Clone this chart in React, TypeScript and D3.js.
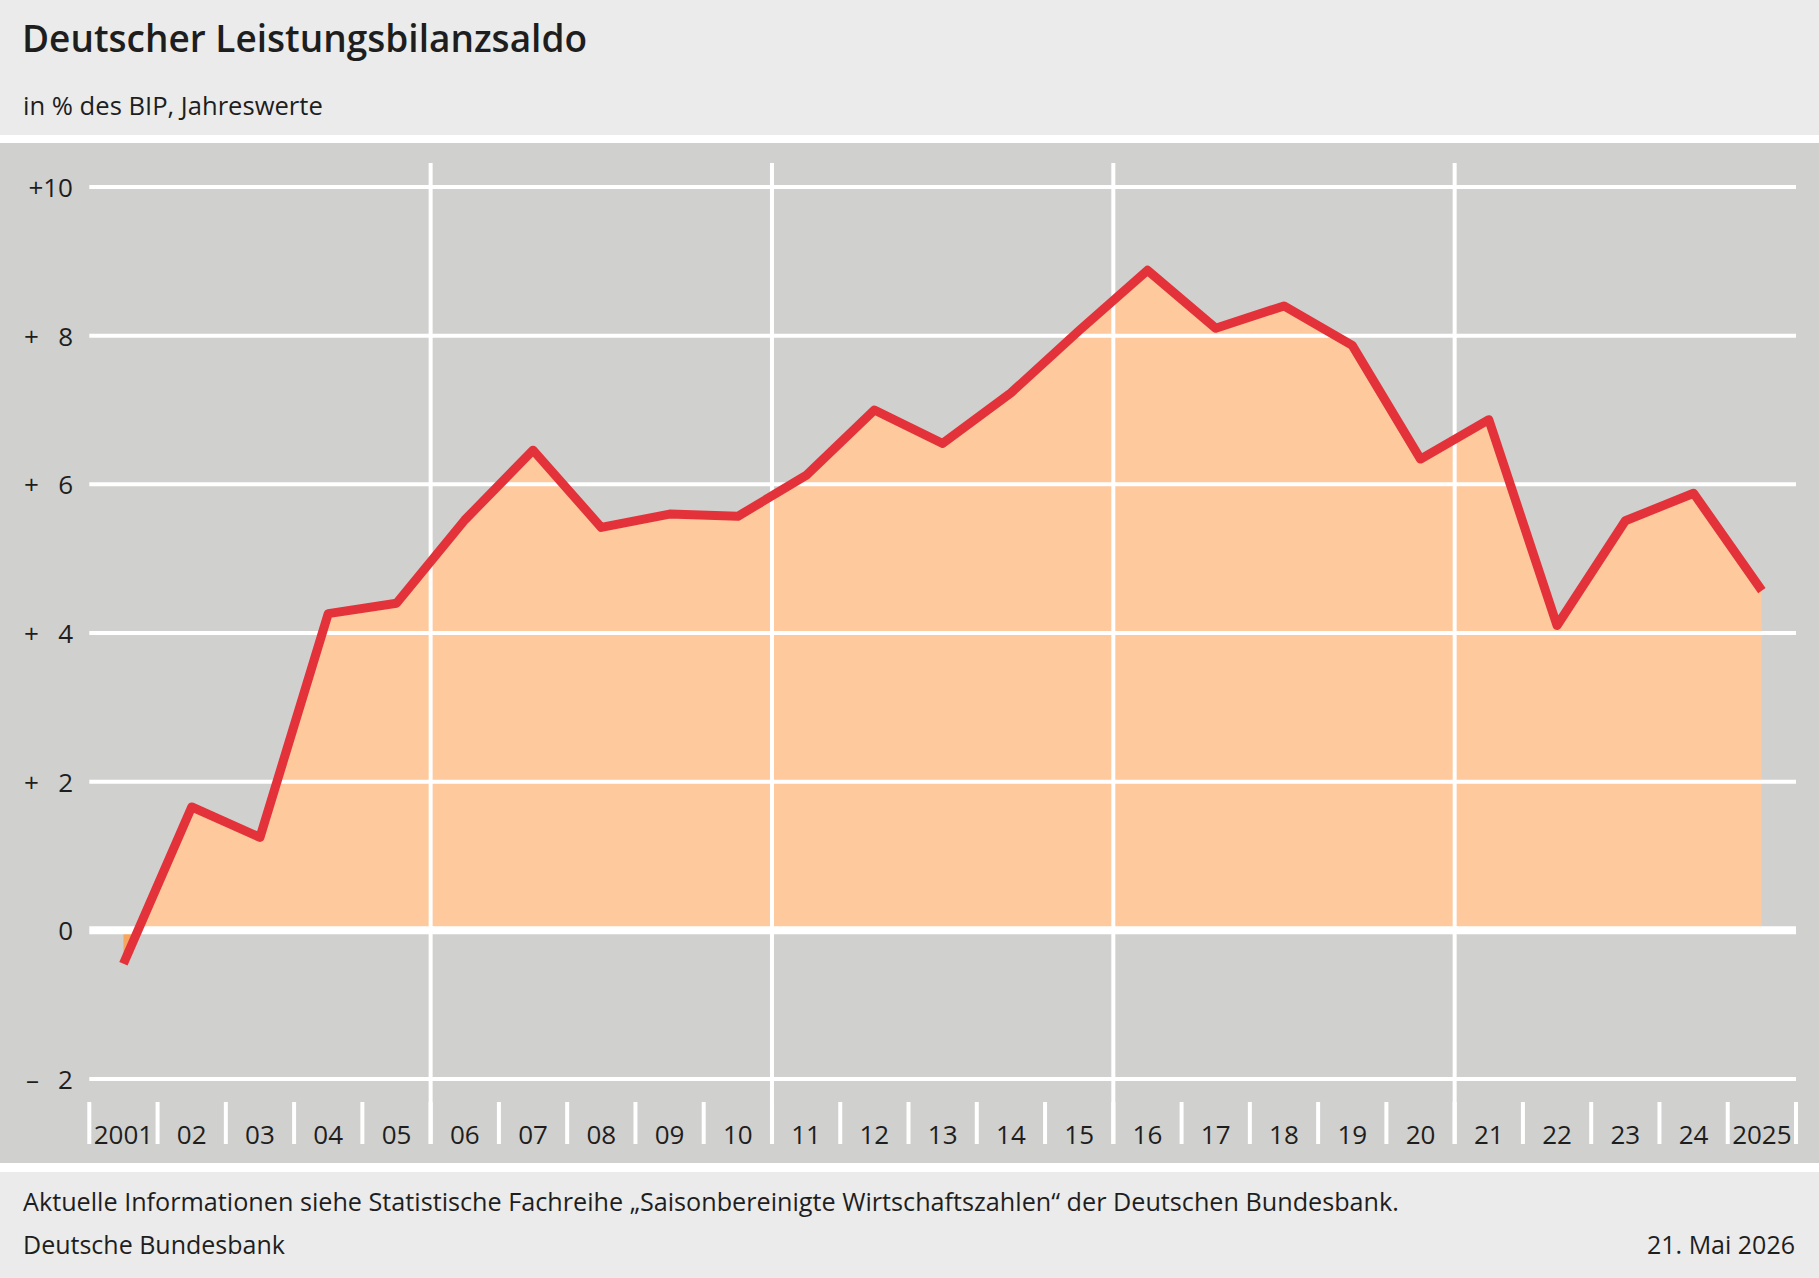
import React from "react";
import * as d3 from "d3";

const years = [2001, 2002, 2003, 2004, 2005, 2006, 2007, 2008, 2009, 2010, 2011, 2012, 2013, 2014, 2015, 2016, 2017, 2018, 2019, 2020, 2021, 2022, 2023, 2024, 2025];
const values = [-0.45, 1.66, 1.25, 4.26, 4.4, 5.52, 6.46, 5.42, 5.6, 5.57, 6.12, 7.0, 6.55, 7.23, 8.07, 8.88, 8.1, 8.4, 7.87, 6.34, 6.87, 4.1, 5.51, 5.88, 4.57];
const xLabels = ["2001", "02", "03", "04", "05", "06", "07", "08", "09", "10", "11", "12", "13", "14", "15", "16", "17", "18", "19", "20", "21", "22", "23", "24", "2025"];
const yTicks = [-2, 0, 2, 4, 6, 8, 10];
const majorYears = [2006, 2011, 2016, 2021];

const title = "Deutscher Leistungsbilanzsaldo";
const subtitle = "in % des BIP, Jahreswerte";
const note = "Aktuelle Informationen siehe Statistische Fachreihe \u201ESaisonbereinigte Wirtschaftszahlen\u201C der Deutschen Bundesbank.";
const source = "Deutsche Bundesbank";
const dateText = "21. Mai 2026";

const W = 1819;
const H = 1278;
const FONT = "'Open Sans', 'Noto Sans', sans-serif";

const C = {
  header: "#ebebeb",
  plot: "#d0d0ce",
  white: "#ffffff",
  fill: "#fec99c",
  fillNeg: "#f6a65e",
  line: "#e3323a",
  text: "#1e1e1e",
};

function yLabel(t: number): string {
  if (t === 0) return "0";
  const sign = t > 0 ? "+" : "\u2013";
  const a = Math.abs(t);
  return sign + (a < 10 ? "\u2007\u2009" : "") + a;
}

export default function App() {
  const x = d3.scaleBand<number>().domain(years).range([89.3, 1796]).padding(0);
  const bw = x.bandwidth();
  const cx = (yr: number) => (x(yr) as number) + bw / 2;
  const y = d3.scaleLinear().domain([-2, 10]).range([1079, 187]);

  const pts = years.map((yr, i) => ({ yr, v: values[i] }));
  const area = d3
    .area<{ yr: number; v: number }>()
    .x((d) => cx(d.yr))
    .y0(y(0))
    .y1((d) => y(d.v));
  const line = d3
    .line<{ yr: number; v: number }>()
    .x((d) => cx(d.yr))
    .y((d) => y(d.v));

  const [x0, x1] = x.range();
  const boundaries = [...years.map((yr) => x(yr) as number), x1];

  return (
    <svg
      width={W}
      height={H}
      viewBox={`0 0 ${W} ${H}`}
      style={{ position: "absolute", left: 0, top: 0, display: "block" }}
      fontFamily={FONT}
    >
      <defs>
        <clipPath id="below0">
          <rect x={0} y={y(0)} width={W} height={H} />
        </clipPath>
      </defs>
      {/* backgrounds */}
      <rect x={0} y={0} width={W} height={H} fill={C.white} />
      <rect x={0} y={0} width={W} height={135} fill={C.header} />
      <rect x={0} y={143} width={W} height={1020} fill={C.plot} />
      <rect x={0} y={1172} width={W} height={H - 1172} fill={C.header} />

      {/* header */}
      <text x={22} y={52} fontSize={37} fontWeight={600} fill={C.text}>
        {title}
      </text>
      <text x={23} y={115} fontSize={25.6} fontWeight={400} fill={C.text}>
        {subtitle}
      </text>

      {/* area */}
      <path d={area(pts) || ""} fill={C.fill} />
      <path d={area(pts) || ""} fill={C.fillNeg} clipPath="url(#below0)" />

      {/* horizontal gridlines */}
      {yTicks.map((t) => (
        <line
          key={`h${t}`}
          x1={x0}
          x2={x1}
          y1={y(t)}
          y2={y(t)}
          stroke={C.white}
          strokeWidth={t === 0 ? 8 : 4}
        />
      ))}

      {/* vertical major gridlines */}
      {majorYears.map((yr) => (
        <line
          key={`v${yr}`}
          x1={x(yr) as number}
          x2={x(yr) as number}
          y1={163}
          y2={1144}
          stroke={C.white}
          strokeWidth={4}
        />
      ))}

      {/* ticks at year boundaries */}
      {boundaries.map((b, i) => (
        <line key={`t${i}`} x1={b} x2={b} y1={1102} y2={1144} stroke={C.white} strokeWidth={4} />
      ))}

      {/* data line */}
      <path
        d={line(pts) || ""}
        fill="none"
        stroke={C.line}
        strokeWidth={9}
        strokeLinejoin="round"
        strokeLinecap="butt"
      />

      {/* y labels */}
      {yTicks.map((t) => (
        <text key={`yl${t}`} x={73} y={y(t) + 10} textAnchor="end" fontSize={26} fill={C.text}>
          {yLabel(t)}
        </text>
      ))}

      {/* x labels */}
      {years.map((yr, i) => (
        <text key={`xl${yr}`} x={cx(yr)} y={1144} fontSize={26} textAnchor="middle" fill={C.text}>
          {xLabels[i]}
        </text>
      ))}

      {/* footer */}
      <text x={23} y={1211} fontSize={25.2} fill={C.text}>
        {note}
      </text>
      <text x={23} y={1254} fontSize={25} fill={C.text}>
        {source}
      </text>
      <text x={1795} y={1254} fontSize={25} textAnchor="end" fill={C.text}>
        {dateText}
      </text>
    </svg>
  );
}
